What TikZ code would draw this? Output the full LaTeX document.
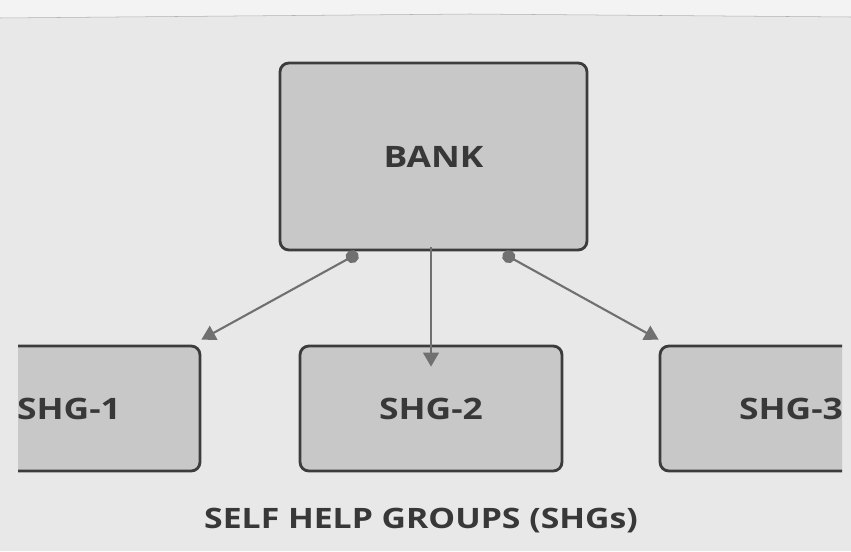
\documentclass[tikz,border=0pt]{standalone}
\usepackage{fontspec}
\setmainfont{Open Sans}[FakeStretch=1.2]
\usetikzlibrary{arrows.meta,calc}
\definecolor{pagewhite}{HTML}{F3F3F3}
\definecolor{paper}{HTML}{E8E8E8}
\definecolor{boxgray}{HTML}{C8C8C8}
\definecolor{boxedge}{HTML}{3C3C3C}
\definecolor{linkgray}{HTML}{707070}
\definecolor{txtgray}{HTML}{383838}
\begin{document}
\begin{tikzpicture}[x=0.02cm,y=-0.02cm,
  blk/.style={draw=boxedge,fill=boxgray,line width=1.6pt,rounded corners=5pt,inner sep=0pt,
    text=txtgray,font=\bfseries\fontsize{16.8}{20}\selectfont},
  shg/.style={blk,minimum width=5.24cm,minimum height=2.5cm},
  link/.style={draw=linkgray,line width=1.2pt,-{Triangle[length=8pt,width=9pt]}},
  dotlink/.style={link,{Circle[length=7.5pt]}-{Triangle[length=8pt,width=9pt]}}]
\useasboundingbox (0,0) rectangle (851,551);
\fill[pagewhite] (0,0) rectangle (851,551);
\fill[paper] (0,18) -- (470,14) -- (851,17) -- (851,551) -- (0,551) -- cycle;
\draw[gray!60,line width=0.3pt] (0,18) -- (470,14) -- (851,17);

\node[blk,minimum width=6.14cm,minimum height=3.74cm] (bank) at (433.5,156.5) {BANK};
\begin{scope}
\clip (18,300) rectangle (842,490);
\node[shg] (shg1) at (69,408.5) {SHG-1};
\node[shg] (shg2) at (431,408.5) {SHG-2};
\node[shg] (shg3) at (791,408.5) {SHG-3};
\end{scope}

\draw[dotlink] ($(bank.south)+(-75.5,2)$) -- ($(shg1.north east)+(0,-5)$);
\draw[link] ($(bank.south)+(-2.5,-4)$) -- ($(shg2.north)+(0,22)$);
\draw[dotlink] ($(bank.south)+(69.5,2)$) -- ($(shg3.north west)+(0,-5)$);

\node[text=txtgray,font=\bfseries\fontsize{16}{20}\selectfont] (caption) at (421,521) {SELF HELP GROUPS (SHGs)};
\end{tikzpicture}
\end{document}
